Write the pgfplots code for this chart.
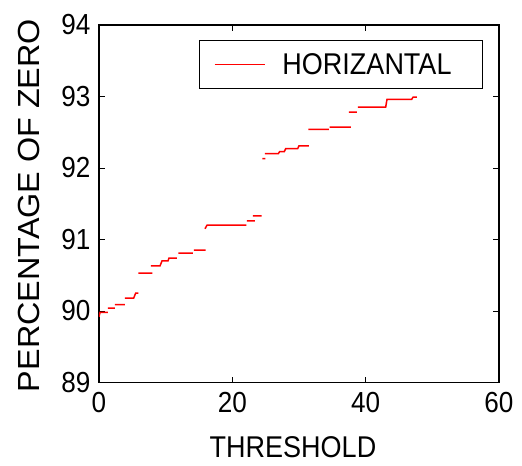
\documentclass[border=0pt]{standalone}
\usepackage{fontspec}
\setmainfont{Liberation Sans}[FakeStretch=0.9]
\newfontfamily\tallfamily{Liberation Sans}[FakeStretch=1.06]
\usepackage{pgfplots}
\pgfplotsset{compat=1.18}

\newcommand{\labfont}{\fontsize{30bp}{35bp}\selectfont}
\newcommand{\ylabfont}{\tallfamily\fontsize{30.5bp}{35bp}\selectfont}
\newcommand{\tickfont}{\fontsize{29bp}{34bp}\selectfont}

\begin{document}
\begin{tikzpicture}
\path[use as bounding box] (-99bp,-83.5bp) rectangle (423bp,382.5bp);
\begin{axis}[
  at={(0,0)}, anchor=south west,
  scale only axis,
  width=400bp, height=357.5bp,
  xmin=0, xmax=60, ymin=89, ymax=94,
  xtick={0,20,40,60}, ytick={89,90,91,92,93,94},
  tick align=inside, major tick length=6bp,
  tick style={black, line width=1bp},
  axis line style={black, line width=1.1bp},
  /pgf/number format/assume math mode=true,
  ticklabel style={font=\tickfont},
  xticklabel style={yshift=-6bp},
  yticklabel style={xshift=-5bp},
  xlabel={THRESHOLD},
  ylabel={PERCENTAGE OF ZERO},
  xlabel style={font=\labfont, at={(axis description cs:0.485,-0.182)}, anchor=center},
  ylabel style={font=\ylabfont, at={(axis description cs:-0.175,0.495)}, anchor=center, rotate=0},
  unbounded coords=jump,
  legend style={draw=black, line width=1bp, font=\labfont,
    at={(axis description cs:0.96,0.958)}, anchor=north east,
    inner xsep=14bp, inner ysep=13bp, nodes={inner sep=0pt}},
  legend image code/.code={\draw[#1] (0bp,0bp) -- (50bp,0bp);},
]
\addplot[red, line width=1.5bp] coordinates {
  (0,89.92) (0.15,89.98) (1.35,89.98) (1.4,nan)
  (1.35,90.04) (2.4,90.04) (2.45,nan)
  (2.4,90.09) (3.9,90.09) (3.95,nan)
  (3.9,90.18) (5.2,90.18) (5.5,90.25) (5.9,90.25) (5.95,nan)
  (5.9,90.53) (8.0,90.53) (8.05,nan)
  (7.8,90.63) (9.15,90.63) (9.45,90.70) (10.35,90.70) (10.5,90.74) (11.7,90.74) (11.75,nan)
  (11.9,90.81) (14.1,90.81) (14.15,nan)
  (14.25,90.85) (16.0,90.85) (16.05,nan)
  (15.9,91.15) (16.2,91.20) (22.1,91.20) (22.15,nan)
  (22.2,91.26) (23.4,91.26) (23.45,nan)
  (23.1,91.33) (24.4,91.33) (24.45,nan)
  (24.5,92.13) (24.95,92.13) (25.0,nan)
  (24.9,92.20) (26.9,92.20) (27.1,92.23) (27.8,92.23) (28.0,92.27) (29.8,92.27) (30.0,92.31) (31.5,92.31) (31.55,nan)
  (31.4,92.54) (34.5,92.54) (34.55,nan)
  (34.6,92.57) (37.8,92.57) (37.85,nan)
  (37.5,92.78) (38.7,92.78) (38.75,nan)
  (38.85,92.85) (43.0,92.85) (43.2,92.96) (46.9,92.96) (47.1,92.99) (47.7,92.99)
};
\addlegendentry{\makebox[203bp][l]{\hspace{17bp}HORIZANTAL}}
\end{axis}
\end{tikzpicture}
\end{document}
